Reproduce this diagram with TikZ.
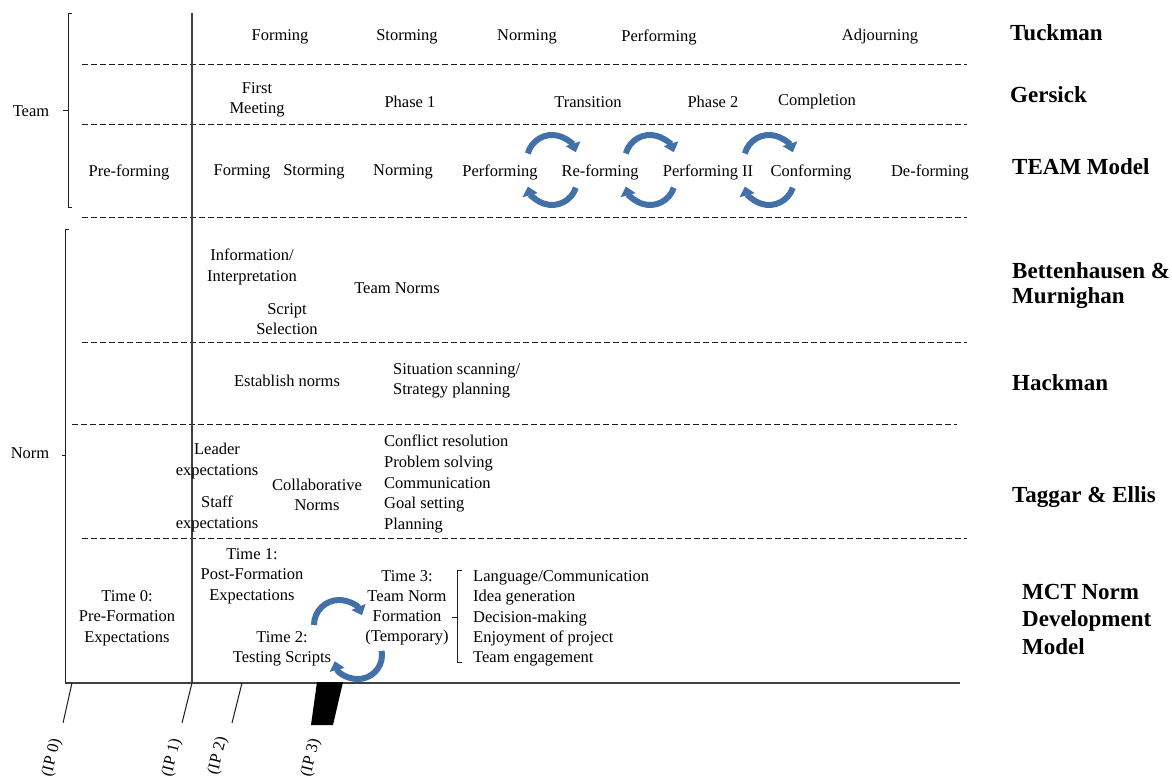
\documentclass[tikz,border=0pt]{standalone}
\usepackage{fontspec}
\setmainfont{Liberation Serif}
\usetikzlibrary{arrows.meta}
\definecolor{arrblue}{RGB}{66,113,170}
\definecolor{ln}{RGB}{30,30,30}
\tikzset{
  txt/.style={font=\fontsize{16.5}{20.5}\selectfont, inner sep=0pt, align=center, text=black},
  lst/.style={txt, align=left, anchor=west, font=\fontsize{16.5}{20.6}\selectfont},
  head/.style={font=\fontsize{23}{25.5}\selectfont\bfseries, inner sep=0pt, align=left, anchor=west},
  dashline/.style={draw=ln, line width=1pt, dash pattern=on 5.5pt off 3.5pt},
  solidline/.style={draw=ln!85, line width=1.2pt},
  brk/.style={draw=ln, line width=1pt},
  circarrow/.style={draw=arrblue, line width=6pt, -{Triangle[width=15pt,length=9pt]}},
  iplabel/.style={txt, rotate=76}
}
\begin{document}
\begin{tikzpicture}[x=1pt,y=-1pt]
\useasboundingbox (0,0) rectangle (1172,779);

% ---------- separators ----------
\draw[dashline] (82,64) -- (967,64);
\draw[dashline] (82,124) -- (967,124);
\draw[dashline] (82,217) -- (967,217);
\draw[dashline] (82,342) -- (967,342);
\draw[dashline] (72,424) -- (957,424);
\draw[dashline] (82,538) -- (967,538);

\draw[solidline] (192,13) -- (192,683);
\draw[solidline] (65,683) -- (960,683);

% brackets
\draw[brk] (72,13) -- (68,13) -- (68,207) -- (72,207);
\draw[brk] (63,110) -- (68,110);
\draw[brk] (69,229) -- (65,229) -- (65,683);
\draw[brk] (62,455) -- (65,455);
\draw[brk] (462,570) -- (457,570) -- (457,662) -- (462,662);
\draw[brk] (452,617) -- (457,617);

% ---------- left labels ----------
\node[txt] (team) at (31,111) {Team};
\node[txt] (norm) at (30,453) {Norm};

% ---------- headings ----------
\node[head] (hTuck) at (1010,33) {Tuckman};
\node[head] (hGers) at (1010,95) {Gersick};
\node[head] (hTeam) at (1012,167) {TEAM Model};
\node[head] (hBett) at (1012,285.5) {Bettenhausen \&\\Murnighan};
\node[head] (hHack) at (1012,383) {Hackman};
\node[head] (hTagg) at (1012,497) {Taggar \& Ellis};
\node[head, font=\fontsize{23}{27.5}\selectfont\bfseries] (hMCT) at (1022,619) {MCT Norm\\Development\\Model};

% ---------- Tuckman ----------
\node[txt] (tForm) at (280,37) {Forming};
\node[txt] (tStorm) at (407,37) {Storming};
\node[txt] (tNorm) at (527,37) {Norming};
\node[txt] (tPerf) at (659,37) {Performing};
\node[txt] (tAdj) at (880,37) {Adjourning};

% ---------- Gersick ----------
\node[txt] (gFirst) at (257,100) {First\\Meeting};
\node[txt] (gPh1) at (410,102) {Phase 1};
\node[txt] (gTrans) at (588,102) {Transition};
\node[txt] (gPh2) at (713,102) {Phase 2};
\node[txt] (gComp) at (817,102) {Completion};

% ---------- TEAM model ----------
\node[txt] (mPre) at (129,172) {Pre-forming};
\node[txt] (mForm) at (242,172) {Forming};
\node[txt] (mStorm) at (314,172) {Storming};
\node[txt] (mNorm) at (403,172) {Norming};
\node[txt] (mPerf) at (500,172) {Performing};
\node[txt] (mRef) at (600,172) {Re-forming};
\node[txt] (mPerf2) at (708,172) {Performing II};
\node[txt] (mConf) at (811,172) {Conforming};
\node[txt] (mDef) at (930,172) {De-forming};

% circular arrows (TEAM model)
\foreach \cx/\nm in {552/a, 650/b, 769/c}{
  \coordinate (top\nm) at (\cx,160);
  \coordinate (bot\nm) at (\cx,180);
  \draw[circarrow] ([shift={(195:25)}]top\nm) arc[start angle=195, end angle=342, radius=25];
  \draw[circarrow] ([shift={(18:25)}]bot\nm) arc[start angle=18, end angle=165, radius=25];
}

% ---------- Bettenhausen & Murnighan ----------
\node[txt] (bInfo) at (252,267) {Information/\\Interpretation};
\node[txt] (bScript) at (287,319) {Script\\Selection};
\node[txt] (bTeamN) at (397,288) {Team Norms};

% ---------- Hackman ----------
\node[txt] (hEst) at (287,381) {Establish norms};
\node[lst] (hSit) at (393,381) {Situation scanning/\\Strategy planning};

% ---------- Taggar & Ellis ----------
\node[txt] (eLead) at (217,461) {Leader\\expectations};
\node[txt] (eStaff) at (217,514) {Staff\\expectations};
\node[txt] (eColl) at (317,495) {Collaborative\\Norms};
\node[lst] (eList) at (384,484) {Conflict resolution\\Problem solving\\Communication\\Goal setting\\Planning};

% ---------- MCT ----------
\node[txt] (cT0) at (127,618) {Time 0:\\Pre-Formation\\Expectations};
\node[txt] (cT1) at (252,576) {Time 1:\\Post-Formation\\Expectations};
\node[txt, font=\fontsize{16.5}{20}\selectfont] (cT3) at (407,608) {Time 3:\\Team Norm\\Formation\\(Temporary)};
\node[txt] (cT2) at (282,649) {Time 2:\\Testing Scripts};
\node[lst, font=\fontsize{16.5}{20.3}\selectfont] (cList) at (473,618.5) {Language/Communication\\Idea generation\\Decision-making\\Enjoyment of project\\Team engagement};

\coordinate (mTop) at (339,625);
\coordinate (mBot) at (358,655);
\draw[circarrow] ([shift={(180:25)}]mTop) arc[start angle=180, end angle=337, radius=25];
\draw[circarrow] ([shift={(-10:24)}]mBot) arc[start angle=-10, end angle=165, radius=24];

% ---------- inflection points ----------
\coordinate (ax0) at (72,683);
\coordinate (ax1) at (192,683);
\coordinate (ax2) at (242,683);
\coordinate (lt0) at (63,723);
\coordinate (lt1) at (182,723);
\coordinate (lt2) at (232,723);
\draw[brk] (ax0) -- (lt0);
\draw[brk] (ax1) -- (lt1);
\draw[brk] (ax2) -- (lt2);
\fill[black] (317,682) -- (343,682) -- (333,725) -- (311,725) -- cycle;

\node[iplabel] (ip0) at (52,758) {(IP 0)};
\node[iplabel] (ip1) at (172,758) {(IP 1)};
\node[iplabel] (ip2) at (218,756) {(IP 2)};
\node[iplabel] (ip3) at (311,758) {(IP 3)};
\end{tikzpicture}
\end{document}
